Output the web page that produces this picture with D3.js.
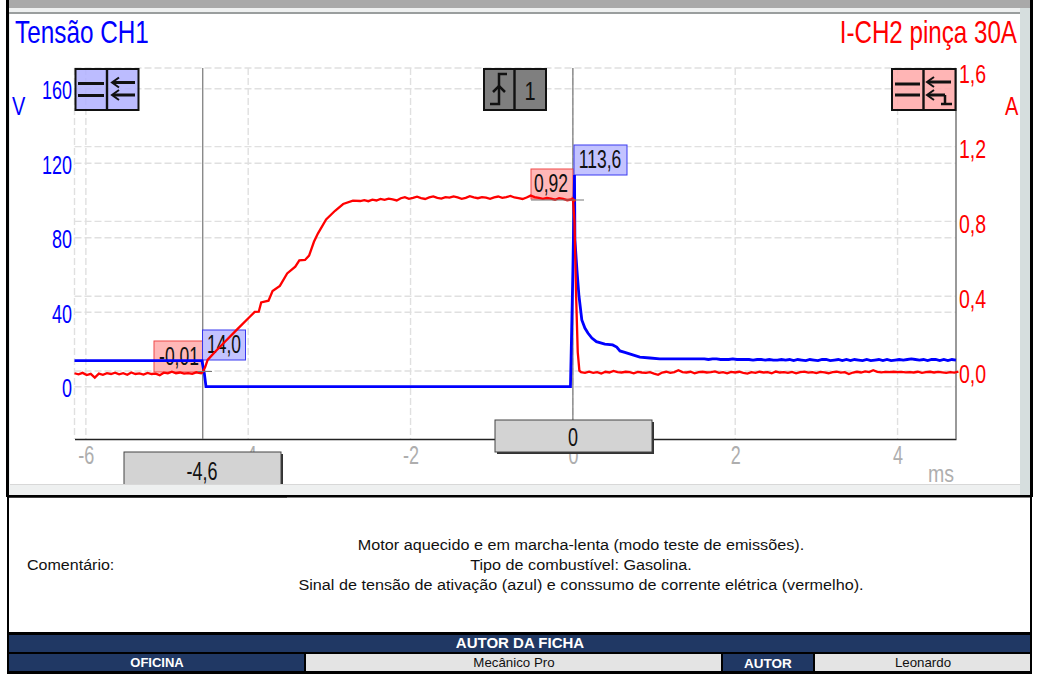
<!DOCTYPE html>
<html><head><meta charset="utf-8">
<script src="https://cdn.jsdelivr.net/npm/d3@7"></script>
<style>html,body{margin:0;padding:0;background:#fff}svg{display:block}text{font-family:"Liberation Sans",Arial,sans-serif}</style>
</head><body><svg id="c" width="1040" height="679"></svg>
<script>
// ---- data ----
const timeTicks=[-6,-4,-2,0,2,4];
const voltTicks=[0,40,80,120,160];
const ampTicks=[0,0.4,0.8,1.2,1.6];
const sampleStep=0.05;
const currentIdleStart=-6.14;
const currentIdle=[-.012,-.018,-.010,-.022,-.015,-.035,-.014,-.020,-.012,-.016,-.009,-.018,-.012,-.020,-.008,-.016,-.013,-.019,-.010,-.016,-.014,-.022,-.009,-.013,-.004,-.012,-.008,-.014,-.011,-.015,-.007];
const currentRampTime=[-4.58,-4.56,-4.53,-4.50,-4.41,-4.29,-4.13,-3.98,-3.92,-3.87,-3.84,-3.75,-3.70,-3.61,-3.52,-3.42,-3.37,-3.30,-3.25,-3.19,-3.14,-3.04,-2.93,-2.83,-2.71,-2.62];
const currentRampAmps=[-.012,-.005,.021,.059,.102,.155,.225,.29,.316,.317,.367,.376,.428,.455,.522,.558,.592,.594,.617,.691,.736,.811,.857,.893,.911,.909];
const currentPlateauStart=-2.57;
const currentPlateau=[.914,.908,.916,.912,.920,.915,.922,.918,.912,.924,.930,.921,.926,.932,.925,.920,.928,.934,.926,.922,.930,.927,.934,.928,.921,.926,.935,.929,.924,.930,.927,.921,.928,.933,.926,.930,.936,.928,.924,.920,.928,.938,.930,.926,.921,.925,.922,.916,.924,.920,.913,.917,.910];
const currentDropTime=[0.0,0.02,0.04,0.06,0.08];
const currentDropAmps=[.92,.80,.40,.10,.002];
const currentTailStart=0.10;
const currentTail=[-.006,-.010,-.004,-.010,-.006,-.014,-.004,-.008,0.000,-.006,-.008,-.004,-.006,-.012,-.005,-.008,-.010,-.006,-.014,-.020,-.008,-.004,-.010,-.006,.004,-.006,-.008,-.004,-.012,-.006,-.004,-.008,-.006,-.002,-.010,-.006,-.012,-.005,-.008,-.004,-.010,-.014,-.006,-.010,-.004,-.008,-.006,-.012,-.003,-.008,-.006,-.010,-.005,-.012,-.006,-.003,-.009,-.006,-.011,-.005,-.007,-.012,-.006,-.004,-.009,-.006,-.016,-.008,-.004,-.008,-.002,-.006,.004,-.005,-.007,-.005,-.006,-.004,-.006,-.005,-.007,-.006,-.008,-.004,-.010,-.006,-.004,-.008,-.005,-.007,-.010,-.006,-.009,-.003];
const voltageTime=[-6.14,-4.57,-4.54,-4.52,-0.03,-0.015,0.0,0.02,0.025,0.05,0.074,0.11,0.148,0.185,0.234,0.29,0.394,0.49,0.54,0.58,0.64,0.825,0.95,1.07];
const voltageValues=[14,14,7,0,0,30,62,113.6,78.8,62.7,49.2,35.8,31.5,28.8,26.1,24.2,22.9,22.4,21.3,19.2,18.4,15.9,15.4,14.9];
const voltageTailStart=1.12;
const voltageTail=[14.9,14.9,14.9,14.9,14.9,14.9,14.9,14.9,14.9,14.9,14.9,14.6,14.9,14.9,14.6,14.6,14.6,14.9,14.6,14.6,14.6,14.6,14.3,14.6,14.6,14.3,14.6,14.3,14.3,14.6,14.3,14.6,14.0,14.6,14.3,14.0,14.6,14.3,14.0,14.6,14.6,14.0,14.3,14.6,14.0,14.6,14.0,14.6,14.3,14.0,14.6,14.0,14.3,14.6,14.0,14.6,14.0,14.3,14.6,14.3,14.6,14.9,14.6,14.3,14.6,14.0,14.6,14.6,14.0,14.6,14.0,14.6,14.3];
const commentLines=["Motor aquecido e em marcha-lenta (modo teste de emissões).","Tipo de combustível: Gasolina.","Sinal de tensão de ativação (azul) e conssumo de corrente elétrica (vermelho)."];
const cursorTimes=[-4.56,0];

// ---- scales ----
const svg=d3.select("#c");
const x=d3.scaleLinear().domain([-6.14,4.72]).range([74.5,956]);
const yV=d3.scaleLinear().domain([0,160]).range([386.7,88.7]);
const yA=d3.scaleLinear().domain([0,1.6]).range([371,71.8]);
const top_=68,bot=439;
const comma=d=>d3.format(".1f")(d).replace(".",",");
const fill=(start,vals)=>vals.map((v,i)=>[start+i*sampleStep,v]);
const currentPts=[...fill(currentIdleStart,currentIdle),
 ...currentRampTime.map((t,i)=>[t,currentRampAmps[i]]),
 ...fill(currentPlateauStart,currentPlateau),
 ...currentDropTime.map((t,i)=>[t,currentDropAmps[i]]),
 ...fill(currentTailStart,currentTail)];
const voltagePts=[...voltageTime.map((t,i)=>[t,voltageValues[i]]),...fill(voltageTailStart,voltageTail)];

// ---- frame ----
const R=(g,a,b,w,h,f,extra)=>{const r=g.append("rect").attr("x",a).attr("y",b).attr("width",w).attr("height",h).attr("fill",f);if(extra)for(const k in extra)r.attr(k,extra[k]);return r;};
R(svg,0,0,1040,679,"#fff");
R(svg,9,0,1021,8,"#a9a9a9");
R(svg,9,8,1021,488,"#eef0f0");
R(svg,1020,8,10,487,"#d6dede");
R(svg,10,14,1010,470,"#fff");
R(svg,9,12,1011,2,"#9a9e9e");
R(svg,6,0,3,497,"#000");
R(svg,1030,0,3,497,"#000");
R(svg,7,495,1025,2.5,"#000");
R(svg,10,484,1010,1,"#d8d8d8");
R(svg,7,497,2,136,"#000");
R(svg,1030,497,2,136,"#000");

const squeeze=(sel,ratio)=>sel.each(function(){const l=this.getComputedTextLength();d3.select(this).attr("textLength",l*ratio).attr("lengthAdjust","spacingAndGlyphs");});
const T=(g,a,b,s,size,col,anchor,ratio)=>{const t=g.append("text").attr("x",a).attr("y",b).attr("font-size",size).attr("fill",col).attr("text-anchor",anchor||"start").text(s);
 if(ratio){t.attr("x",0).attr("y",0).attr("transform",`translate(${a},${b}) scale(${ratio},1)`);}
 return t;};

// ---- grid ----
const grid=svg.append("g").attr("stroke","#e0e0e0").attr("stroke-width",1.4).attr("stroke-dasharray","7 3").attr("fill","none");
grid.selectAll(".gv").data(timeTicks).join("line").attr("x1",d=>x(d)).attr("x2",d=>x(d)).attr("y1",top_).attr("y2",bot);
grid.append("line").attr("x1",74.5).attr("x2",74.5).attr("y1",top_).attr("y2",bot);
grid.selectAll(".gh1").data(voltTicks).join("line").attr("x1",74.5).attr("x2",956).attr("y1",d=>yV(d)).attr("y2",d=>yV(d));
grid.selectAll(".gh2").data(ampTicks.slice(0,4)).join("line").attr("x1",74.5).attr("x2",956).attr("y1",d=>yA(d)).attr("y2",d=>yA(d));
grid.append("line").attr("x1",74.5).attr("x2",956).attr("y1",top_).attr("y2",top_);

// ---- axes ----
const axB=svg.append("g").attr("transform",`translate(0,${bot})`).call(d3.axisBottom(x).tickValues(timeTicks).tickSize(0).tickPadding(7).tickFormat(d=>d3.format("d")(d).replace("−","-")));
axB.select(".domain").attr("stroke","#222").attr("stroke-width",1.5);
axB.selectAll("text").attr("font-size",25).attr("fill","#aeaeae").style("font-family",'"Liberation Sans"').call(squeeze,.72);
const axL=svg.append("g").attr("transform","translate(72,0)").call(d3.axisLeft(yV).tickValues(voltTicks).tickSize(0).tickPadding(0).tickFormat(d3.format("d")));
axL.select(".domain").remove();
axL.selectAll("text").attr("font-size",25).attr("fill","#0000ff").attr("dy","0.4em").style("font-family",'"Liberation Sans"').call(squeeze,.72);
const axR=svg.append("g").attr("transform","translate(959,0)").call(d3.axisRight(yA).tickValues(ampTicks).tickSize(0).tickPadding(0).tickFormat(comma));
axR.select(".domain").remove();
axR.selectAll("text").attr("font-size",25).attr("fill","#ff0000").attr("dy","0.44em").style("font-family",'"Liberation Sans"').call(squeeze,.78);
svg.append("line").attr("x1",956).attr("x2",956).attr("y1",top_).attr("y2",bot).attr("stroke","#777").attr("stroke-width",1.5);

T(svg,15,43,"Tensão CH1",31,"#0000ff","start",.785);
T(svg,1017,43,"I-CH2 pinça 30A",31,"#ff0000","end",.78);
T(svg,12,115,"V",25,"#0000ff","start",.8);
T(svg,1005,115,"A",25,"#ff0000","start",.8);
T(svg,928,482,"ms",23,"#aeaeae","start",.85);

// ---- cursors ----
svg.selectAll(".cur").data(cursorTimes).join("line").attr("x1",d=>x(d)).attr("x2",d=>x(d)).attr("y1",top_).attr("y2",(d,i)=>i?420:bot).attr("stroke","#777").attr("stroke-width",1.2);

// ---- icons ----
function icon(a,w,div,col,op){const g=svg.append("g");R(g,a,69,w,41,col,{opacity:op});
 g.append("rect").attr("x",a).attr("y",69).attr("width",w).attr("height",41).attr("fill","none").attr("stroke","#111").attr("stroke-width",2);
 R(g,div-1.2,69,2.4,41,"#111");return g;}
const bar=(g,a,b,y)=>g.append("line").attr("x1",a).attr("x2",b).attr("y1",y).attr("y2",y).attr("stroke","#111").attr("stroke-width",3);
const ar=(g,a,y)=>g.append("path").attr("d",`M${a+7},${y-5}L${a},${y}L${a+7},${y+5}`).attr("fill","none").attr("stroke","#111").attr("stroke-width",2);
const ib=icon(75.5,63,107,"#b0b0ff",.85);bar(ib,78,104,83.5);bar(ib,78,104,95.5);bar(ib,113,135,82.5);bar(ib,113,135,95);ar(ib,112,82.5);ar(ib,112,95);
const ir=icon(892,63.5,923.5,"#ffa8a8",.85);bar(ir,895,920,84);bar(ir,895,920,95);bar(ir,928,951,82);bar(ir,928,945,95);ar(ir,927,82);ar(ir,927,95);
ir.append("path").attr("d","M945,95V104M941,104H952").attr("stroke","#111").attr("stroke-width",2.5).attr("fill","none");
const it=icon(484,62,514.5,"#7f7f7f",1);
it.append("path").attr("d","M490,104H499V74H507").attr("fill","none").attr("stroke","#111").attr("stroke-width",2.5);
it.append("path").attr("d","M493,92L499,86L505,92").attr("fill","none").attr("stroke","#111").attr("stroke-width",2.5);
T(it,530,100,"1",25,"#111","middle",.8);

// ---- value labels ----
function tag(a,b,w,h,s,fillc,stroke,tx){R(svg,a,b,w,h,fillc,{stroke:stroke,"stroke-width":1,opacity:.95});T(svg,tx,b+h-7,s,25,"#111","middle",.7);}
tag(154,341,49,31,"-0,01","#ffb4b4","#f04040",179);
tag(202.5,330,43,30,"14,0","#c0c0ff","#3030f0",224);
tag(531,169,42,30,"0,92","#ffb4b4","#f04040",551);
tag(574,145,53,30,"113,6","#c0c0ff","#3030f0",600);

// ---- traces ----
const line=(yS)=>d3.line().x(d=>x(d[0])).y(d=>yS(d[1]));
svg.append("path").datum(voltagePts).attr("d",line(yV)).attr("fill","none").attr("stroke","#0000ff").attr("stroke-width",2.8);
svg.append("path").datum(currentPts).attr("d",line(yA)).attr("fill","none").attr("stroke","#ff0000").attr("stroke-width",2.3);
svg.append("line").attr("x1",x(cursorTimes[0])-5).attr("x2",212).attr("y1",371.5).attr("y2",371.5).attr("stroke","#777").attr("stroke-width",1);
svg.append("line").attr("x1",531).attr("x2",584).attr("y1",200).attr("y2",200).attr("stroke","#777").attr("stroke-width",1);

// ---- cursor value boxes ----
function cbox(a,b,w,h,s,tx,ty){R(svg,a+2,b+2,w,h,"#333");R(svg,a,b,w,h,"#d3d3d3",{stroke:"#444","stroke-width":1});T(svg,tx,ty,s,25,"#111","middle",.72);}
cbox(124,452,157,36,"-4,6",202,480);
R(svg,123,485,162,10,"#eef0f0");R(svg,10,484,275,1,"#d8d8d8");R(svg,7,495,280,2.5,"#000");
cbox(495,420,157,32,"0",573,446);

// ---- comment ----
const cg=svg.append("g");
T(cg,27,570,"Comentário:",15,"#111","start",1.07);
commentLines.forEach((s,i)=>T(cg,581,549.5+i*20,s,15.5,"#111","middle",1.045));

// ---- table ----
R(svg,7,632,1025,42,"#000");
R(svg,9,635,1021,17,"#203864");
R(svg,9,654,295,17,"#203864");
R(svg,306,654,415,17,"#e4e4e4");
R(svg,723,654,90,17,"#203864");
R(svg,815,654,215,17,"#e4e4e4");
T(svg,520,648,"AUTOR DA FICHA",15,"#fff","middle").attr("font-weight","bold");
T(svg,157,667,"OFICINA",13,"#fff","middle").attr("font-weight","bold");
T(svg,514,667,"Mecânico Pro",13.3,"#111","middle");
T(svg,768,668,"AUTOR",13.5,"#fff","middle").attr("font-weight","bold");
T(svg,923,667,"Leonardo",13.3,"#111","middle");
</script></body></html>
